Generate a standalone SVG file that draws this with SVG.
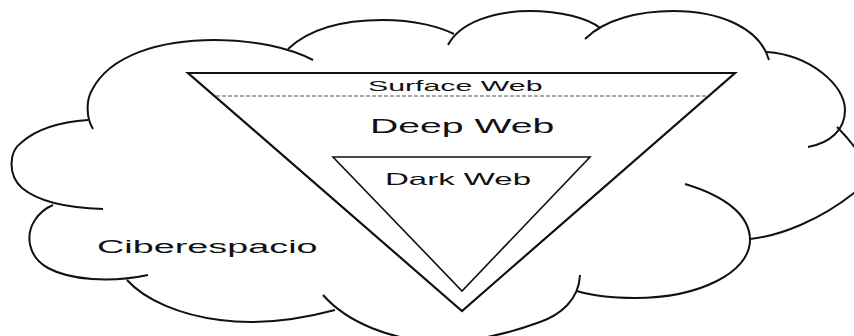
<svg xmlns="http://www.w3.org/2000/svg" width="854" height="336" viewBox="0 0 854 336">
<style>
.cl{fill:none;stroke:#111;stroke-width:2;stroke-linecap:butt}
.tri{fill:none;stroke:#111;stroke-width:2.2;stroke-linejoin:miter}
.tri2{fill:none;stroke:#111;stroke-width:1.6}
.dash{stroke:#555;stroke-width:1.2;stroke-dasharray:4 2}
.t{font-family:"Liberation Sans",Arial,sans-serif;fill:#111}
</style>
<rect width="854" height="336" fill="#fff"/>
<g id="ciberespacio">
<path class="cl" d="M103,209 C70,208 40,203 22,188 C8,175 8,152 22,142 C38,128 60,122 88,120"/>
<path class="cl" d="M93,129 C86,118 86,100 92,90 C110,55 160,40 215,40 C255,40 290,48 313,60"/>
<path class="cl" d="M288,49 C310,28 345,20 383,20 C415,20 440,27 454,34"/>
<path class="cl" d="M448,45 C460,22 495,11 530,11 C560,11 588,18 600,28"/>
<path class="cl" d="M585,39 C605,19 640,11 673,11 C720,11 760,28 769,60"/>
<path class="cl" d="M767,52 C810,55 845,85 845,110 C845,130 830,143 808,147"/>
<path class="cl" d="M837,127 C870,160 875,185 854,193 C820,220 780,236 750,239"/>
<path class="cl" d="M685,184 C725,196 750,215 750,240 C750,272 700,298 635,298 C610,298 590,295 577,291"/>
<path class="cl" d="M580,275 C579,300 560,315 540,322 C510,333 480,340 450,342 C390,343 345,320 323,295"/>
<path class="cl" d="M335,310 C290,322 250,324 220,320 C180,315 145,300 127,280"/>
<path class="cl" d="M148,275 C110,283 70,280 48,268 C28,257 25,235 35,220 C40,212 46,208 53,205"/>
<text class="t" font-size="18" transform="translate(97,253) scale(2.1,1)">Ciberespacio</text>
</g>
<g id="deep-web">
<polygon class="tri" points="188,73 735,73 462,311"/>
<text class="t" font-size="19.5" transform="translate(370,133) scale(2.01,1)">Deep Web</text>
</g>
<g id="surface-web">
<line class="dash" x1="216" y1="96" x2="707" y2="96"/>
<text class="t" font-size="15" transform="translate(368,91) scale(2.02,1)">Surface Web</text>
</g>
<g id="dark-web">
<polygon class="tri2" points="333,157 590,157 462,291"/>
<text class="t" font-size="16.5" transform="translate(385,185) scale(2.0,1)">Dark Web</text>
</g>
<g id="connectors"/>
</svg>
